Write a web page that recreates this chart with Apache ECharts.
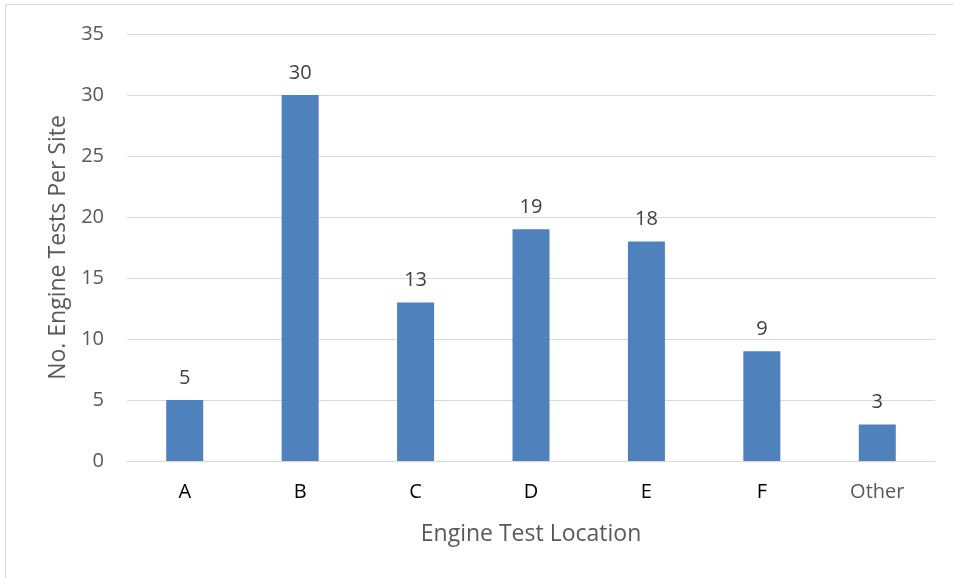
<!DOCTYPE html>
<html><head><meta charset="utf-8">
<script src="https://cdn.jsdelivr.net/npm/echarts@6/dist/echarts.min.js"></script>
<style>html,body{margin:0;padding:0;background:#fff}#c{width:953px;height:578px}</style>
</head><body><div id="c"></div>
<script>
const categories = ['A','B','C','D','E','F','Other'];
const values = [5,30,13,19,18,9,3];
const yTicks = {min:0, max:35, interval:5};

const chart = echarts.init(document.getElementById('c'));
const FONT = '"Open Sans", sans-serif';
chart.setOption({
  backgroundColor:'#fff',
  animation:false,
  graphic:[{type:'rect', shape:{x:5.5,y:4.5,width:1000,height:700}, style:{fill:'none', stroke:'#d9d9d9', lineWidth:1}, silent:true}],
  grid:{left:127, right:18, top:34, bottom:117},
  xAxis:{
    type:'category',
    data: categories.map(c => ({value:c, textStyle:{color: c==='Other' ? '#595959' : '#000'}})),
    axisLine:{lineStyle:{color:'#d9d9d9', width:1}},
    axisTick:{show:false},
    axisLabel:{fontFamily:FONT, fontSize:20, margin:21},
    name:'Engine Test Location', nameLocation:'middle', nameGap:62,
    nameTextStyle:{fontFamily:FONT, fontSize:23, color:'#595959'}
  },
  yAxis:{
    type:'value', min:yTicks.min, max:yTicks.max, interval:yTicks.interval,
    axisLine:{show:false}, axisTick:{show:false},
    splitLine:{lineStyle:{color:'#d9d9d9', width:1}},
    axisLabel:{fontFamily:FONT, fontSize:20, color:'#595959', margin:23},
    name:'No. Engine Tests Per Site', nameLocation:'middle', nameGap:57,
    nameTextStyle:{fontFamily:FONT, fontSize:23, color:'#595959'}
  },
  series:[{
    type:'bar', data:values, barWidth:37,
    itemStyle:{color:'#4f81bd'},
    label:{show:true, position:'top', distance:12, fontFamily:FONT, fontSize:20, color:'#404040'}
  }]
});
</script></body></html>
